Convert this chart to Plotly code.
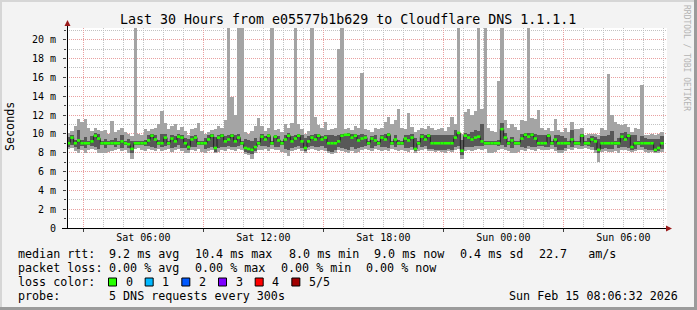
import numpy as np
import pandas as pd
import plotly.graph_objects as go

# ---------------- data (10-minute bins, values in ms) ----------------
med = [9.0, 9.6, 9.0, 9.3, 9.0, 9.0, 9.0, 9.2, 9.8, 9.5, 9.0, 9.0, 9.0, 9.0, 9.0, 9.0, 9.2, 9.0,
       8.9, 8.4, 9.0, 9.0, 9.0, 9.0, 9.3, 9.8, 9.4, 9.0, 9.0, 9.6, 9.0, 9.5, 9.2, 9.7, 9.6, 9.0,
       8.6, 9.4, 9.6, 9.0, 9.0, 9.0, 9.4, 9.8, 8.5, 9.6, 9.8, 9.2, 9.4, 9.8, 9.2, 9.6, 9.0, 8.5,
       8.4, 8.3, 8.6, 9.0, 9.7, 9.4, 9.8, 9.0, 9.7, 9.3, 9.0, 9.4, 9.8, 9.2, 9.5, 9.8, 9.2, 8.5,
       9.2, 9.6, 9.4, 9.8, 9.4, 9.6, 9.0, 9.0, 9.0, 9.2, 9.8, 9.9, 9.9, 9.6, 9.8, 9.3, 9.5, 9.6,
       9.0, 9.5, 9.3, 9.0, 9.6, 9.4, 9.9, 9.0, 9.4, 9.0, 9.0, 9.5, 9.3, 9.6, 8.4, 9.0, 9.7, 9.4,
       9.8, 9.0, 9.0, 9.0, 9.0, 9.0, 9.0, 9.0, 9.6, 10.1, 8.2, 9.8, 9.6, 9.4, 9.6, 9.7, 9.2, 9.0,
       9.0, 9.0, 9.0, 9.0, 10.5, 9.6, 9.0, 9.3, 9.0, 9.0, 9.5, 9.9, 9.7, 9.9, 9.5, 9.0, 9.0, 9.0,
       9.8, 9.0, 9.4, 9.0, 9.0, 9.0, 9.0, 9.4, 9.0, 9.0, 9.8, 9.0, 9.0, 9.4, 9.2, 8.3, 9.0, 9.0,
       9.0, 9.0, 9.0, 9.0, 9.7, 9.4, 9.8, 8.6, 9.0, 9.0, 9.0, 9.0, 9.0, 9.0, 8.3, 8.5, 9.0]

rtt_min = [8.4, 8.5, 8.2, 8.0, 8.3, 8.0, 8.3, 8.4, 8.3, 8.0, 8.0, 8.0, 8.1, 8.2, 8.3, 8.4, 8.2, 8.3,
           8.0, 7.3, 8.4, 8.5, 8.3, 8.2, 8.4, 8.3, 8.2, 8.4, 8.2, 8.3, 8.4, 8.1, 8.3, 8.4, 8.2, 8.0,
           8.0, 8.3, 8.2, 8.4, 8.1, 8.0, 8.2, 8.3, 8.0, 8.1, 8.3, 8.2, 8.4, 8.3, 8.2, 8.4, 8.3, 7.9,
           7.8, 7.3, 8.0, 8.3, 8.3, 8.4, 8.2, 8.4, 8.3, 8.3, 8.1, 8.0, 7.6, 8.2, 8.3, 8.4, 8.2, 8.0,
           8.3, 8.4, 8.3, 8.2, 8.3, 8.2, 8.0, 7.9, 8.0, 8.3, 8.2, 8.1, 8.0, 8.2, 8.0, 8.1, 8.3, 8.4,
           8.3, 8.2, 8.4, 8.3, 8.2, 8.3, 8.2, 8.4, 8.3, 8.2, 8.3, 8.2, 8.1, 8.3, 8.0, 8.2, 8.3, 8.4,
           8.2, 8.2, 8.1, 8.2, 8.1, 8.0, 8.2, 8.1, 8.3, 8.4, 7.3, 8.2, 8.3, 8.2, 8.3, 8.4, 8.3, 8.4,
           8.0, 8.0, 8.1, 8.3, 8.4, 8.3, 8.2, 8.0, 8.0, 8.1, 8.3, 8.2, 8.4, 8.3, 8.2, 8.4, 8.3, 8.3,
           8.3, 8.4, 8.2, 8.0, 8.0, 8.2, 8.4, 8.3, 8.5, 8.4, 8.4, 8.5, 8.4, 8.3, 8.0, 7.0, 8.1, 8.2,
           8.1, 8.1, 8.2, 8.0, 8.3, 8.3, 8.2, 8.1, 8.2, 8.3, 8.3, 8.1, 8.0, 8.1, 8.0, 8.0, 8.1]

rtt_lo = [8.6, 8.8, 8.6, 8.4, 8.7, 8.5, 8.8, 8.7, 8.6, 8.4, 8.8, 8.5, 8.8, 8.8, 8.6, 8.8, 8.5, 8.8,
          8.5, 8.0, 8.8, 8.8, 8.8, 8.7, 8.7, 8.6, 8.5, 8.8, 8.6, 8.7, 8.8, 8.5, 8.6, 8.8, 8.5, 8.5,
          8.3, 8.6, 8.6, 8.8, 8.8, 8.4, 8.5, 8.6, 8.1, 8.5, 8.6, 8.6, 8.7, 8.6, 8.6, 8.7, 8.8, 8.1,
          8.0, 7.9, 8.2, 8.8, 8.7, 8.7, 8.6, 8.8, 8.6, 8.6, 8.8, 8.4, 8.3, 8.5, 8.6, 8.7, 8.5, 8.2,
          8.6, 8.7, 8.6, 8.6, 8.7, 8.5, 8.2, 8.1, 8.3, 8.6, 8.5, 8.4, 8.3, 8.6, 8.4, 8.5, 8.6, 8.7,
          8.8, 8.5, 8.7, 8.8, 8.6, 8.6, 8.5, 8.8, 8.6, 8.8, 8.8, 8.5, 8.5, 8.6, 8.2, 8.8, 8.6, 8.7,
          8.4, 8.4, 8.3, 8.3, 8.3, 8.3, 8.4, 8.3, 8.6, 8.7, 7.8, 8.6, 8.6, 8.6, 8.7, 8.7, 8.7, 8.8,
          8.8, 8.8, 8.8, 8.7, 8.8, 8.6, 8.8, 8.5, 8.8, 8.8, 8.6, 8.5, 8.7, 8.6, 8.6, 8.7, 8.7, 8.6,
          8.6, 8.8, 8.6, 8.3, 8.3, 8.5, 8.8, 8.6, 8.8, 8.8, 8.7, 8.8, 8.7, 8.6, 8.3, 8.0, 8.4, 8.5,
          8.4, 8.4, 8.8, 8.5, 8.6, 8.6, 8.5, 8.3, 8.4, 8.8, 8.6, 8.4, 8.3, 8.3, 8.1, 8.2, 8.4]

rtt_hi = [9.7, 9.9, 9.3, 10.4, 9.3, 9.7, 9.2, 9.8, 10.1, 10.0, 9.2, 9.5, 9.2, 9.3, 9.6, 9.2, 9.9, 9.2,
          9.5, 9.2, 9.2, 9.2, 9.2, 9.3, 9.9, 10.0, 9.9, 9.3, 10.0, 10.0, 9.2, 9.9, 9.8, 10.0, 9.9, 9.6,
          9.4, 9.8, 9.9, 9.2, 9.2, 9.6, 9.9, 10.0, 9.7, 9.9, 10.0, 9.8, 9.9, 10.0, 9.9, 10.0, 9.2, 9.4,
          9.3, 9.2, 9.6, 9.2, 10.0, 9.8, 10.0, 9.2, 9.9, 9.8, 9.2, 9.9, 10.1, 9.8, 9.9, 10.0, 9.9, 9.6,
          9.8, 9.9, 10.0, 10.0, 9.8, 9.9, 9.9, 9.9, 9.8, 9.9, 10.0, 10.0, 10.1, 10.0, 10.0, 9.9, 10.0, 9.9,
          9.2, 9.8, 9.9, 9.2, 9.9, 10.0, 10.1, 9.2, 9.9, 9.3, 9.2, 9.9, 9.9, 10.0, 9.6, 9.2, 10.0, 9.9,
          10.0, 9.9, 9.9, 9.9, 9.9, 9.9, 9.9, 9.9, 10.4, 10.2, 9.3, 10.1, 10.0, 10.2, 10.4, 10.3, 11.0, 9.2,
          9.2, 9.2, 9.2, 9.3, 11.2, 10.1, 9.2, 9.7, 9.2, 9.2, 10.0, 10.1, 10.1, 10.1, 10.0, 9.9, 9.9, 9.9,
          10.0, 9.2, 9.9, 9.9, 9.8, 9.6, 9.2, 10.4, 9.2, 9.2, 10.0, 9.2, 9.6, 9.8, 9.7, 9.4, 9.8, 9.8,
          9.9, 10.3, 9.2, 9.6, 10.1, 10.2, 10.0, 9.9, 9.9, 9.2, 9.8, 9.6, 9.4, 9.5, 9.4, 9.5, 9.8]

rtt_max = [10.1, 10.3, 10.8, 11.6, 11.3, 11.6, 10.6, 10.3, 10.6, 10.4, 10.3, 10.4, 10.0, 11.4, 10.2, 10.4, 10.6, 10.2,
           10.0, 9.8, 22.0, 10.0, 9.9, 10.5, 10.3, 10.5, 10.6, 11.0, 12.4, 11.2, 10.5, 10.8, 11.0, 10.4, 10.7, 10.3,
           9.9, 10.5, 10.6, 11.2, 10.3, 10.0, 10.2, 10.4, 10.5, 10.8, 10.6, 11.5, 22.0, 13.9, 12.0, 22.0, 22.0, 10.2,
           10.0, 10.3, 10.8, 11.7, 10.8, 10.3, 10.6, 22.0, 10.4, 10.5, 10.2, 11.0, 10.6, 11.2, 22.0, 11.0, 10.5, 10.0,
           10.3, 22.0, 11.8, 10.9, 10.6, 11.3, 10.4, 10.5, 10.6, 19.0, 22.0, 10.5, 10.6, 10.4, 10.8, 10.6, 16.5, 10.5,
           10.4, 10.2, 10.6, 10.5, 10.6, 11.3, 11.8, 11.0, 11.5, 12.6, 10.6, 10.5, 12.2, 10.7, 10.2, 10.4, 10.6, 10.5,
           10.8, 10.6, 10.4, 10.5, 10.6, 10.3, 10.7, 11.8, 11.0, 22.0, 10.0, 12.3, 12.6, 12.0, 12.4, 22.0, 12.6, 22.0,
           10.6, 10.3, 10.2, 15.6, 22.0, 11.5, 10.6, 11.0, 10.7, 10.4, 11.5, 11.4, 22.0, 11.7, 11.6, 12.5, 10.6, 10.4,
           10.6, 10.3, 11.6, 10.4, 10.2, 10.6, 10.2, 11.3, 10.5, 10.5, 10.6, 9.9, 10.0, 10.0, 10.0, 9.9, 10.6, 10.4,
           16.4, 12.0, 11.3, 11.0, 10.9, 11.0, 10.7, 10.2, 10.6, 10.5, 15.2, 9.9, 9.9, 10.0, 9.9, 10.0, 10.2]

y_ticks = [0, 2, 4, 6, 8, 10, 12, 14, 16, 18, 20]
y_tick_text = ["0", "2 m", "4 m", "6 m", "8 m", "10 m", "12 m", "14 m", "16 m", "18 m", "20 m"]
x_tick_times = ["2026-02-14 06:00", "2026-02-14 12:00", "2026-02-14 18:00",
                "2026-02-15 00:00", "2026-02-15 06:00"]
x_tick_text = ["Sat 06:00", "Sat 12:00", "Sat 18:00", "Sun 00:00", "Sun 06:00"]
major_grid_times = ["2026-02-14 03:00", "2026-02-14 09:00", "2026-02-14 15:00",
                    "2026-02-14 21:00", "2026-02-15 03:00"]

title = "Last 30 Hours from e05577b1b629 to Cloudflare DNS 1.1.1.1"
legend_rows = [
    [("median rtt:", 16), ("9.2 ms avg", 107.3), ("10.4 ms max", 193.3), ("8.0 ms min", 286.7),
     ("9.0 ms now", 372.3), ("0.4 ms sd", 458.3), ("22.7   am/s", 537.3)],
    [("packet loss:", 16), ("0.00 % avg", 107.3), ("0.00 % max", 193.3), ("0.00 % min", 279.3),
     ("0.00 % now", 364.3)],
    [("loss color:", 16)],
    [("probe:", 16), ("5 DNS requests every 300s", 107.3)],
]
loss_labels = ["0", "1", "2", "3", "4", "5/5"]
loss_colors = ["#26ff00", "#00b8ff", "#0059ff", "#7e00ff", "#ff0000", "#a10000"]
stamp = "Sun Feb 15 08:06:32 2026"

# ---------------- geometry helpers ----------------
PL, PR, PT, PB = 67, 667, 28, 228
W, H = 697, 310
def px(x):
    return (x - PL) / (PR - PL)
def py(y):
    return (PB - y) / (PB - PT)

start = pd.Timestamp("2026-02-14 02:11:00")
step = pd.Timedelta(minutes=10)
n = len(med)
centers = [start + step * (i + 0.5) for i in range(n)]
edges = [start + step * i for i in range(n + 1)]
x_range = [start, start + pd.Timedelta(hours=30)]
bw = step.total_seconds() * 1000

# horizontal median segments (one per bin, broken between bins)
seg_x, seg_y = [], []
for i in range(n):
    seg_x += [edges[i], edges[i + 1], None]
    seg_y += [med[i], med[i], None]

FONT = "DejaVu Sans Mono"
fig = go.Figure()

fig.add_trace(go.Bar(x=centers, base=rtt_min, y=[b - a for a, b in zip(rtt_min, rtt_max)],
                     width=bw, marker=dict(color="#a4a4a4", line=dict(width=0)), hoverinfo="skip"))
fig.add_trace(go.Bar(x=centers, base=rtt_lo, y=[b - a for a, b in zip(rtt_lo, rtt_hi)],
                     width=bw, marker=dict(color="#585858", line=dict(width=0)), hoverinfo="skip"))
fig.add_trace(go.Scatter(x=edges, y=med + [med[-1]], mode="lines",
                         line=dict(color="#202020", width=1, shape="hv"), hoverinfo="skip"))
fig.add_trace(go.Scatter(x=seg_x, y=seg_y, mode="lines", connectgaps=False,
                         line=dict(color=loss_colors[0], width=2.6), hoverinfo="skip"))
# helper trace that carries the overlaid grid axis
fig.add_trace(go.Scatter(x=[x_range[0]], y=[None], xaxis="x2", mode="lines", hoverinfo="skip"))

grid_minor = "#c2c2c2"
grid_major = "#e9a0a0"
DOT = "1px,1px"

fig.update_layout(
    width=W, height=H, margin=dict(l=PL, r=W - PR, t=PT, b=H - PB),
    paper_bgcolor="#f3f3f3", plot_bgcolor="#ffffff", showlegend=False,
    barmode="overlay", bargap=0,
    font=dict(family=FONT, size=10, color="#000000"),
    xaxis=dict(type="date", range=x_range, tickvals=x_tick_times, ticktext=x_tick_text,
               ticks="", showgrid=False, showline=False, zeroline=False,
               tickfont=dict(size=10, family=FONT), ticklabelstandoff=2, fixedrange=True),
    xaxis2=dict(type="date", range=x_range, overlaying="x", anchor="y", side="bottom",
                tickvals=major_grid_times, showticklabels=False, ticks="outside", ticklen=3,
                tickcolor="#404040", showgrid=True, gridcolor=grid_major, griddash=DOT, gridwidth=1,
                minor=dict(dtick=3600000, tick0="2026-02-14 00:00", showgrid=True, gridcolor=grid_minor,
                           griddash=DOT, gridwidth=1, ticks=""),
                showline=False, zeroline=False),
    yaxis=dict(range=[0, 21.24], tickvals=y_ticks, ticktext=y_tick_text, ticks="outside", ticklen=3,
               tickcolor="#404040", showgrid=True, gridcolor=grid_major, griddash=DOT,
               minor=dict(dtick=1, showgrid=True, gridcolor=grid_minor, griddash=DOT, ticks="outside",
                          ticklen=2, tickcolor="#404040"),
               showline=False, zeroline=False, tickfont=dict(size=10, family=FONT),
               ticklabelstandoff=5, fixedrange=True),
)

shapes = []
# frame shading
shapes.append(dict(type="rect", xref="paper", yref="paper", x0=px(W - 3), x1=px(W), y0=py(H), y1=py(0),
                   fillcolor="#9b9b9b", line=dict(width=0)))
shapes.append(dict(type="rect", xref="paper", yref="paper", x0=px(0), x1=px(W), y0=py(H), y1=py(H - 3),
                   fillcolor="#9b9b9b", line=dict(width=0)))
shapes.append(dict(type="rect", xref="paper", yref="paper", x0=px(0), x1=px(W - 3), y0=py(2), y1=py(0),
                   fillcolor="#d6d6d6", line=dict(width=0)))
shapes.append(dict(type="rect", xref="paper", yref="paper", x0=px(0), x1=px(2), y0=py(H - 3), y1=py(0),
                   fillcolor="#d6d6d6", line=dict(width=0)))
# axis lines
shapes.append(dict(type="line", xref="paper", yref="paper", x0=px(67.5), x1=px(67.5), y0=py(PB), y1=py(24),
                   line=dict(color="#000000", width=1)))
shapes.append(dict(type="line", xref="paper", yref="paper", x0=px(62), x1=px(668), y0=py(PB + 0.5), y1=py(PB + 0.5),
                   line=dict(color="#000000", width=1)))
# arrows
shapes.append(dict(type="path", xref="paper", yref="paper",
                   path=f"M {px(64.5)} {py(26)} L {px(70.5)} {py(26)} L {px(67.5)} {py(20)} Z",
                   fillcolor="#9a1a1a", line=dict(width=0)))
shapes.append(dict(type="path", xref="paper", yref="paper",
                   path=f"M {px(666)} {py(225.5)} L {px(666)} {py(231.5)} L {px(672)} {py(228.5)} Z",
                   fillcolor="#9a1a1a", line=dict(width=0)))

annotations = []
annotations.append(dict(text=title, x=px(348), y=py(19), xref="paper", yref="paper", showarrow=False,
                        xanchor="center", yanchor="middle", font=dict(family=FONT, size=13.3, color="#000")))
annotations.append(dict(text="Seconds", x=px(10), y=py(127), xref="paper", yref="paper", showarrow=False,
                        textangle=-90, xanchor="center", yanchor="middle",
                        font=dict(family=FONT, size=11.7, color="#000")))
annotations.append(dict(text="RRDTOOL / TOBI OETIKER", x=px(687), y=py(58), xref="paper", yref="paper",
                        showarrow=False, textangle=90, xanchor="center", yanchor="middle",
                        font=dict(family=FONT, size=8, color="#b4b4b4")))
row_y = [254, 268, 282, 296]
for r, row in enumerate(legend_rows):
    for txt, x0 in row:
        annotations.append(dict(text=txt, x=px(x0), y=py(row_y[r]), xref="paper", yref="paper",
                                showarrow=False, xanchor="left", yanchor="middle",
                                font=dict(family=FONT, size=11.7, color="#000")))
for k, (lab, col) in enumerate(zip(loss_labels, loss_colors)):
    sx = 108.5 + 36.67 * k
    shapes.append(dict(type="rect", xref="paper", yref="paper", x0=px(sx), x1=px(sx + 8),
                       y0=py(286), y1=py(278), fillcolor=col, line=dict(color="#000", width=1)))
    annotations.append(dict(text=lab, x=px(sx + 15), y=py(282), xref="paper", yref="paper",
                            showarrow=False, xanchor="left", yanchor="middle",
                            font=dict(family=FONT, size=11.7, color="#000")))
annotations.append(dict(text=stamp, x=px(680), y=py(296), xref="paper", yref="paper", showarrow=False,
                        xanchor="right", yanchor="middle", font=dict(family=FONT, size=11.7, color="#000")))

fig.update_layout(shapes=shapes, annotations=annotations)
fig.write_html("out.html")
